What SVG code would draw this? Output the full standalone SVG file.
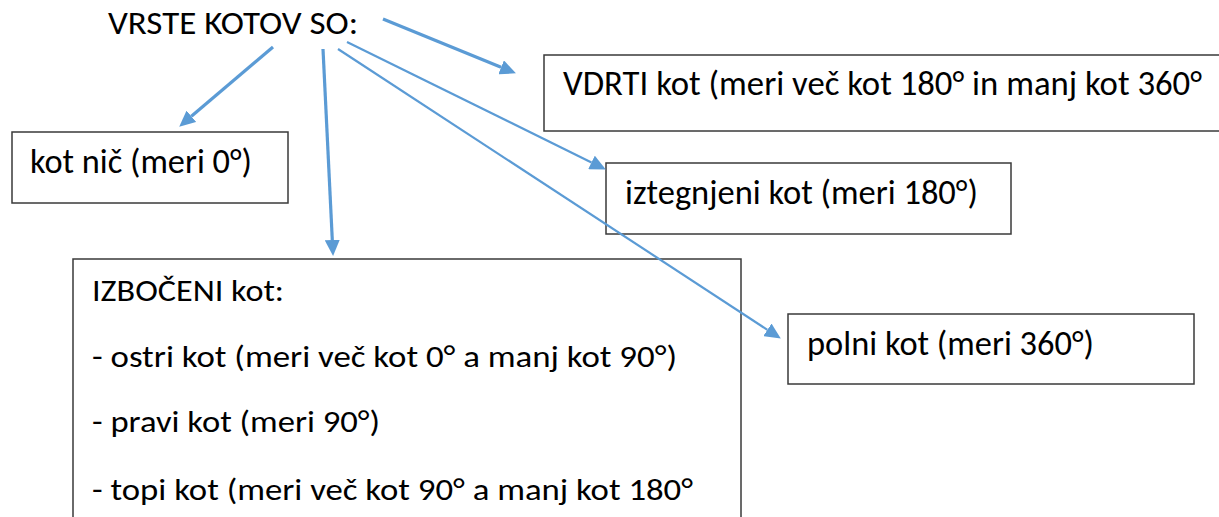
<svg xmlns="http://www.w3.org/2000/svg" width="1219" height="517" viewBox="0 0 1219 517">
  <style>
    .box { fill: #ffffff; stroke: #3a3a3a; stroke-width: 1.5; }
    .t { font-family: Carlito, Lato, "Liberation Sans", sans-serif; fill: #000000; }
    .big { font-size: 34px; }
    .mid { font-size: 30px; }
    .link { fill: none; stroke: #5b9bd5; marker-end: url(#head); }
    .thick { stroke-width: 3.2; }
    .thin { stroke-width: 2.2; }
  </style>
  <defs>
    <marker id="head" markerUnits="userSpaceOnUse" markerWidth="16" markerHeight="15" refX="0" refY="7.5" orient="auto">
      <path d="M0,0 L16,7.5 L0,15 Z" fill="#5b9bd5"/>
    </marker>
  </defs>

  <rect width="1219" height="517" fill="#ffffff"/>

  <!-- heading -->
  <g id="title">
    <text class="t" x="108" y="34" font-size="32" textLength="250" lengthAdjust="spacingAndGlyphs">VRSTE KOTOV SO:</text>
  </g>

  <!-- categories -->
  <g id="node-nic">
    <rect class="box" x="12" y="132" width="276" height="71"/>
    <text class="t big" x="30" y="173" textLength="222" lengthAdjust="spacingAndGlyphs">kot nič (meri 0°)</text>
  </g>

  <g id="node-vdrti">
    <rect class="box" x="544" y="55" width="690" height="76"/>
    <text class="t big" x="563" y="95" textLength="639" lengthAdjust="spacingAndGlyphs">VDRTI kot (meri več kot 180° in manj kot 360°</text>
  </g>

  <g id="node-iztegnjeni">
    <rect class="box" x="606" y="163" width="405" height="71"/>
    <text class="t big" x="625" y="204" textLength="353" lengthAdjust="spacingAndGlyphs">iztegnjeni kot (meri 180°)</text>
  </g>

  <g id="node-polni">
    <rect class="box" x="788" y="314" width="406" height="70"/>
    <text class="t big" x="807" y="355" textLength="287" lengthAdjust="spacingAndGlyphs">polni kot (meri 360°)</text>
  </g>

  <g id="node-izboceni">
    <rect class="box" x="73" y="259" width="668" height="280"/>
    <text class="t mid" x="92" y="301" textLength="192" lengthAdjust="spacingAndGlyphs">IZBOČENI kot:</text>
    <text class="t mid" x="92" y="367" textLength="585" lengthAdjust="spacingAndGlyphs">- ostri kot (meri več kot 0° a manj kot 90°)</text>
    <text class="t mid" x="92" y="432" textLength="288" lengthAdjust="spacingAndGlyphs">- pravi kot (meri 90°)</text>
    <text class="t mid" x="92" y="500" textLength="601" lengthAdjust="spacingAndGlyphs">- topi kot (meri več kot 90° a manj kot 180°</text>
  </g>

  <!-- arrows from the heading to each category -->
  <g id="connectors">
    <path class="link thick" d="M273,47 L191.4,116.3"/>
    <path class="link thick" d="M323,49 L332.3,240"/>
    <path class="link thick" d="M383,19 L501.1,67.3"/>
    <path class="link thin" d="M347,42 L591.5,162.4"/>
    <path class="link thin" d="M338,49 L767.4,329.8"/>
  </g>
</svg>
